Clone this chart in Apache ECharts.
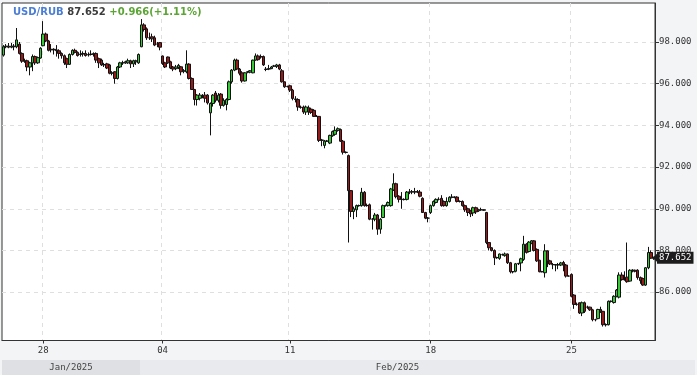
<!DOCTYPE html>
<html>
<head>
<meta charset="utf-8">
<script src="https://cdn.jsdelivr.net/npm/echarts@6/dist/echarts.min.js"></script>
<style>
html,body{margin:0;padding:0;background:#f3f4f6;}
#chart{width:697px;height:375px;}
</style>
</head>
<body>
<div id="chart"></div>
<script>
// ---- data ----
const header = ['USD/RUB', '87.652', '+0.966(+1.11%)'];
const dayDates = ['2025-01-24','2025-01-27','2025-01-28','2025-01-29','2025-01-30','2025-01-31','2025-02-03',
  '2025-02-04','2025-02-05','2025-02-06','2025-02-07','2025-02-10',
  '2025-02-11','2025-02-12','2025-02-13','2025-02-14','2025-02-17',
  '2025-02-18','2025-02-19','2025-02-20','2025-02-21','2025-02-24',
  '2025-02-25','2025-02-26','2025-02-27','2025-02-28'];
const dayCounts = [6,9, 9,9,9,10, 8, 10,10,9,10,9, 11,10,11,10,11, 11,10,11,10,11, 9,9,9,5];
const tickDays = ['2025-01-28','2025-02-04','2025-02-11','2025-02-18','2025-02-25'];
const monthNames = ['Jan/2025','Feb/2025'];
const yTicks = [86, 88, 90, 92, 94, 96, 98];
const lastPrice = 87.652;
// [open, close, low, high]
const ohlc = [
[97.37,97.77,97.30,97.85],[97.77,97.80,97.70,97.90],[97.80,97.75,97.70,97.95],[97.75,97.80,97.70,97.95],
[97.80,97.77,97.60,97.90],[97.77,98.10,97.70,98.67],[97.90,97.45,97.40,98.00],[97.45,97.08,97.00,97.50],
[97.08,97.10,97.00,97.20],[97.10,96.80,96.60,97.15],[96.80,97.00,96.40,97.05],[97.00,97.30,96.60,97.40],
[97.30,97.00,96.90,97.35],[97.00,97.25,96.95,97.30],[97.23,97.70,97.20,97.75],[97.82,98.38,97.80,99.00],
[98.38,98.05,98.00,98.45],[98.05,97.60,97.55,98.10],[97.62,97.65,97.50,97.90],[97.65,97.62,97.40,97.70],
[97.62,97.58,97.30,97.85],[97.58,97.45,97.20,97.65],[97.45,97.34,97.20,97.50],[97.34,97.00,96.90,97.40],
[97.20,96.93,96.75,97.25],[96.93,97.40,96.90,97.45],[97.40,97.60,97.35,97.65],[97.60,97.50,97.45,97.68],
[97.50,97.35,97.30,97.55],[97.40,97.42,97.30,97.60],[97.42,97.45,97.30,97.55],[97.45,97.35,97.30,97.60],
[97.38,97.40,97.30,97.50],[97.40,97.42,97.35,97.60],[97.42,97.44,97.30,97.50],[97.45,97.13,97.00,97.50],
[97.20,97.00,96.75,97.25],[97.13,96.90,96.85,97.20],[96.92,96.90,96.80,97.00],[96.95,96.75,96.70,97.00],
[96.90,96.50,96.45,96.95],[96.50,96.52,96.40,96.60],[96.57,96.25,96.00,96.60],[96.25,96.80,96.20,96.85],
[96.80,97.00,96.75,97.05],[97.00,97.00,96.90,97.10],[97.00,97.05,96.95,97.10],[97.00,97.10,96.95,97.20],
[97.10,96.95,96.75,97.15],[96.95,97.10,96.80,97.15],[97.05,97.10,96.90,97.15],[97.00,97.40,96.95,97.45],
[97.77,98.82,97.75,99.10],[98.82,98.60,98.50,98.90],[98.63,98.20,98.10,98.70],[98.20,98.20,98.10,98.45],
[98.25,98.15,98.00,98.40],[98.20,97.85,97.80,98.30],[97.90,97.90,97.75,98.00],[97.97,97.75,97.60,98.00],
[97.33,96.97,96.90,97.35],[97.00,96.80,96.75,97.05],[97.28,97.00,96.95,97.30],[97.05,96.75,96.70,97.10],
[96.80,96.70,96.60,96.85],[96.72,96.80,96.65,96.90],[96.78,96.88,96.70,96.95],[96.81,96.57,96.40,96.85],
[96.60,96.62,96.50,96.70],[96.57,96.94,96.50,97.60],[96.94,96.25,96.20,96.98],[96.25,95.72,95.70,96.30],
[95.72,95.24,94.96,95.75],[95.24,95.45,94.95,95.50],[95.30,95.45,95.20,95.55],[95.40,95.38,95.30,95.50],
[95.45,95.30,95.10,95.60],[95.45,95.08,95.00,95.50],[94.60,95.05,93.52,95.10],[95.05,95.45,94.90,95.50],
[95.55,95.20,95.10,95.65],[95.20,95.45,95.10,95.55],[95.50,94.96,94.80,95.55],[94.96,95.20,94.90,95.30],
[95.00,95.24,94.72,95.30],[95.24,96.09,95.20,96.15],[96.09,96.65,96.00,96.70],[96.65,97.13,96.60,97.20],
[97.13,96.70,96.65,97.20],[96.70,96.50,96.40,96.75],[96.52,96.13,96.05,96.60],[96.13,96.52,96.10,96.55],
[96.55,96.57,96.50,96.60],[96.55,96.62,96.50,96.65],[96.52,97.13,96.50,97.15],[97.13,97.33,97.10,97.45],
[97.33,97.15,97.10,97.40],[97.28,97.30,97.20,97.40],[97.30,96.90,96.85,97.35],[96.70,96.68,96.60,96.80],
[96.72,96.70,96.65,96.90],[96.72,96.80,96.70,96.85],[96.84,96.85,96.80,96.90],[96.82,96.90,96.75,96.95],
[96.90,96.70,96.65,96.95],[96.62,96.09,96.05,96.70],[96.09,95.85,95.80,96.10],[95.86,95.87,95.82,95.90],
[95.90,95.69,95.60,95.95],[95.69,95.29,95.20,95.75],[95.27,95.24,95.10,95.40],[95.24,94.88,94.70,95.30],
[94.88,94.86,94.80,94.95],[94.88,94.64,94.55,94.95],[94.64,94.88,94.50,94.95],[94.85,94.65,94.50,94.95],
[94.78,94.62,94.55,94.85],[94.72,94.43,94.40,94.78],[94.43,94.43,94.40,94.50],[94.43,93.28,93.20,94.45],
[93.28,93.30,93.00,93.35],[93.04,93.24,92.90,93.30],[93.24,93.25,93.20,93.30],[93.15,93.52,93.10,93.55],
[93.50,93.70,93.45,93.75],[93.57,93.76,93.50,93.95],[93.76,93.84,93.70,93.90],[93.80,93.24,93.20,93.85],
[93.24,92.71,92.60,93.30],[92.71,92.70,92.65,92.75],[92.55,90.87,88.38,92.60],[90.87,89.87,89.60,90.90],
[89.87,90.00,89.50,90.10],[89.95,90.15,89.60,90.20],[90.15,90.15,90.10,90.20],[90.15,90.79,90.10,91.00],
[90.79,90.15,90.10,90.85],[90.16,90.15,90.10,90.25],[90.19,89.50,89.45,90.25],[89.50,89.50,89.00,89.55],
[89.50,89.70,89.40,89.80],[89.70,89.02,88.75,89.75],[89.02,89.50,88.80,89.55],[89.58,90.15,89.55,90.20],
[90.15,90.16,90.10,90.20],[90.15,90.30,90.10,90.35],[90.15,90.95,90.10,91.00],[90.90,91.20,90.85,91.70],
[91.20,90.58,90.50,91.25],[90.60,90.45,90.30,90.65],[90.45,90.45,90.00,90.80],[90.45,90.44,90.40,90.50],
[90.45,90.80,90.40,90.85],[90.80,90.80,90.70,90.95],[90.80,90.82,90.70,90.90],[90.80,90.82,90.70,91.00],
[90.82,90.80,90.75,90.90],[90.80,90.60,90.55,90.90],[90.50,89.82,89.80,90.55],[89.82,89.55,89.50,89.85],
[89.55,89.55,89.35,89.60],
[89.82,90.15,89.75,90.20],[90.15,90.35,90.10,90.40],[90.30,90.45,90.25,90.50],[90.45,90.45,90.40,90.55],
[90.50,90.15,90.10,90.65],[90.35,90.15,90.10,90.40],[90.15,90.35,90.10,90.55],[90.35,90.55,90.30,90.60],
[90.55,90.56,90.50,90.70],[90.56,90.55,90.50,90.60],[90.56,90.35,90.30,90.60],[90.35,90.35,90.30,90.40],
[90.35,90.15,90.10,90.40],[90.15,89.95,89.85,90.20],[90.00,89.82,89.65,90.05],[89.90,89.75,89.60,89.95],
[89.80,90.05,89.65,90.10],[90.05,89.85,89.75,90.10],[89.90,89.95,89.85,90.00],[89.95,89.95,89.90,90.05],
[89.95,89.93,89.90,89.97],[89.82,88.38,88.30,89.85],[88.38,88.13,88.00,88.40],[88.13,88.00,87.95,88.15],
[88.00,87.65,87.30,88.05],[87.65,87.66,87.60,87.70],[87.62,87.83,87.55,87.85],[87.80,87.80,87.75,87.85],
[87.75,87.83,87.70,87.90],[87.83,87.41,87.35,87.85],[87.41,86.98,86.90,87.45],[86.98,86.98,86.90,87.00],
[87.00,87.36,86.95,87.40],[87.36,87.38,87.30,87.40],[87.40,87.60,87.00,87.65],[87.57,88.30,87.50,88.70],
[88.30,87.90,87.85,88.35],[87.95,88.40,87.90,88.45],[88.35,88.46,88.30,88.50],[88.46,88.00,87.95,88.50],
[88.05,87.50,87.45,88.10],[87.53,86.98,86.95,87.55],[86.98,86.98,86.95,87.02],[86.93,87.98,86.70,88.30],
[87.98,87.50,87.20,88.00],[87.50,87.35,87.30,87.55],[87.32,87.32,87.10,87.40],[87.32,87.30,87.00,87.35],
[87.30,87.32,87.10,87.40],[87.30,87.40,87.25,87.45],[87.42,87.30,87.00,87.50],[87.30,86.77,86.70,87.35],
[86.77,86.77,86.75,86.80],
[86.85,85.80,85.75,86.90],[85.86,85.41,85.20,85.90],[85.41,85.42,85.35,85.50],[85.49,85.00,84.95,85.50],
[85.00,85.49,84.85,85.55],[85.49,85.08,85.00,85.55],[85.28,85.28,85.20,85.35],[85.28,85.15,85.10,85.30],
[85.15,84.68,84.60,85.20],[84.68,84.68,84.60,84.72],[84.73,85.17,84.70,85.20],[85.17,85.08,85.00,85.30],
[85.08,84.44,84.35,85.10],[84.44,84.44,84.35,84.50],[84.44,85.56,84.40,85.60],[85.56,85.56,85.50,85.60],
[85.50,85.80,85.45,85.85],[85.80,86.10,85.75,86.15],[85.76,86.82,85.70,86.95],[86.82,86.60,86.55,86.95],
[86.60,86.60,86.55,87.00],[86.72,86.50,86.45,88.38],[86.53,87.05,86.50,87.10],[87.05,87.05,86.95,87.10],
[87.05,87.00,86.95,87.08],[87.05,86.70,86.60,87.10],[86.70,86.55,86.40,86.75],[86.65,86.34,86.30,86.70],
[86.34,87.17,86.30,87.20],[87.17,87.90,87.10,88.17],[87.90,87.63,87.60,88.00],[87.63,87.652,87.55,87.70]
];

// ---- build categories ----
const categories = [];
const tickIndex = new Set();
dayDates.forEach((d, di) => {
  if (tickDays.includes(d)) tickIndex.add(categories.length);
  for (let k = 0; k < dayCounts[di]; k++) {
    categories.push(d + ' ' + String(10 + k).padStart(2, '0') + ':00');
  }
});
const N = categories.length;
const janCount = categories.filter(c => c.startsWith('2025-01')).length;
const isTick = (i) => tickIndex.has(i);

const MONO = 'DejaVu Sans Mono';
const chart = echarts.init(document.getElementById('chart'), null, {renderer: 'canvas'});
chart.setOption({
  backgroundColor: '#f3f4f6',
  animation: false,
  title: {
    left: 13, top: 7, padding: 0,
    text: '{a|' + header[0] + '} {b|' + header[1] + '} {c|' + header[2] + '}',
    textStyle: {
      fontFamily: 'DejaVu Sans', fontSize: 10, fontWeight: 'bold',
      rich: {
        a: {color: '#4a7ed6', fontFamily: 'DejaVu Sans', fontSize: 10, fontWeight: 'bold'},
        b: {color: '#3c3c3c', fontFamily: 'DejaVu Sans', fontSize: 10, fontWeight: 'bold'},
        c: {color: '#5ca535', fontFamily: 'DejaVu Sans', fontSize: 10, fontWeight: 'bold'}
      }
    }
  },
  grid: [
    {left: 2, right: 42, top: 3, bottom: 34.5, show: true, backgroundColor: '#ffffff', borderColor: '#333', borderWidth: 1},
    {left: 2, right: 2, top: 360, height: 15, show: false}
  ],
  xAxis: [
    {
      type: 'category', data: categories, gridIndex: 0, boundaryGap: true,
      axisLine: {show: true, lineStyle: {color: '#333'}},
      axisTick: {show: true, interval: isTick, alignWithLabel: true, length: 3, lineStyle: {color: '#333'}},
      axisLabel: {interval: isTick, formatter: v => v.slice(8, 10), fontFamily: MONO, fontSize: 9, color: '#333', margin: 6},
      splitLine: {show: true, interval: isTick, lineStyle: {type: [4, 4], color: '#dfdfdf'}}
    },
    {
      type: 'value', gridIndex: 1, min: -0.5, max: -0.5 + N * 693 / 653,
      show: false
    }
  ],
  yAxis: [
    {
      type: 'value', gridIndex: 0, position: 'right', min: 83.68, max: 99.87,
      axisLine: {show: true, lineStyle: {color: '#333'}},
      axisTick: {show: true, length: 4, customValues: yTicks, lineStyle: {color: '#333'}},
      axisLabel: {customValues: yTicks, formatter: v => Number(v).toFixed(3), fontFamily: MONO, fontSize: 9, color: '#333', margin: 4},
      splitLine: {show: true, lineStyle: {type: [4, 4], color: '#dfdfdf'}}
    },
    {type: 'value', gridIndex: 1, min: 0, max: 1, show: false}
  ],
  series: [
    {
      type: 'candlestick', xAxisIndex: 0, yAxisIndex: 0, data: ohlc,
      barWidth: 3,
      itemStyle: {color: '#36c836', color0: '#981a1a', borderColor: '#111', borderColor0: '#111', borderColorDoji: '#111', borderWidth: 1},
      markLine: {
        silent: true, animation: false,
        symbol: ['none', 'path://M0,0 L10,0 L5,10 Z'],
        symbolSize: [9, 5],
        lineStyle: {color: '#1c1c1c', width: 0, type: 'solid'},
        label: {
          show: true, position: 'end', distance: 2,
          formatter: () => lastPrice.toFixed(3),
          backgroundColor: '#1c1c1c', color: '#fff', padding: [2, 2, 1, 2],
          fontFamily: MONO, fontSize: 9
        },
        data: [{yAxis: lastPrice}]
      }
    },
    {
      type: 'line', xAxisIndex: 1, yAxisIndex: 1, data: [[-0.5, 0]], showSymbol: false, silent: true,
      lineStyle: {width: 0},
      markArea: {
        silent: true,
        label: {show: true, position: 'inside', fontFamily: MONO, fontSize: 9, color: '#444'},
        data: [
          [{xAxis: -0.5, name: monthNames[0], itemStyle: {color: '#dfe0e3'}}, {xAxis: janCount - 0.5}],
          [{xAxis: janCount - 0.5, name: monthNames[1], itemStyle: {color: '#e9eaed'}}, {xAxis: N - 0.5}],
          [{xAxis: N - 0.5, name: '', itemStyle: {color: '#e9eaed'}}, {xAxis: -0.5 + N * 693 / 653}]
        ]
      }
    }
  ]
});
</script>
</body>
</html>
